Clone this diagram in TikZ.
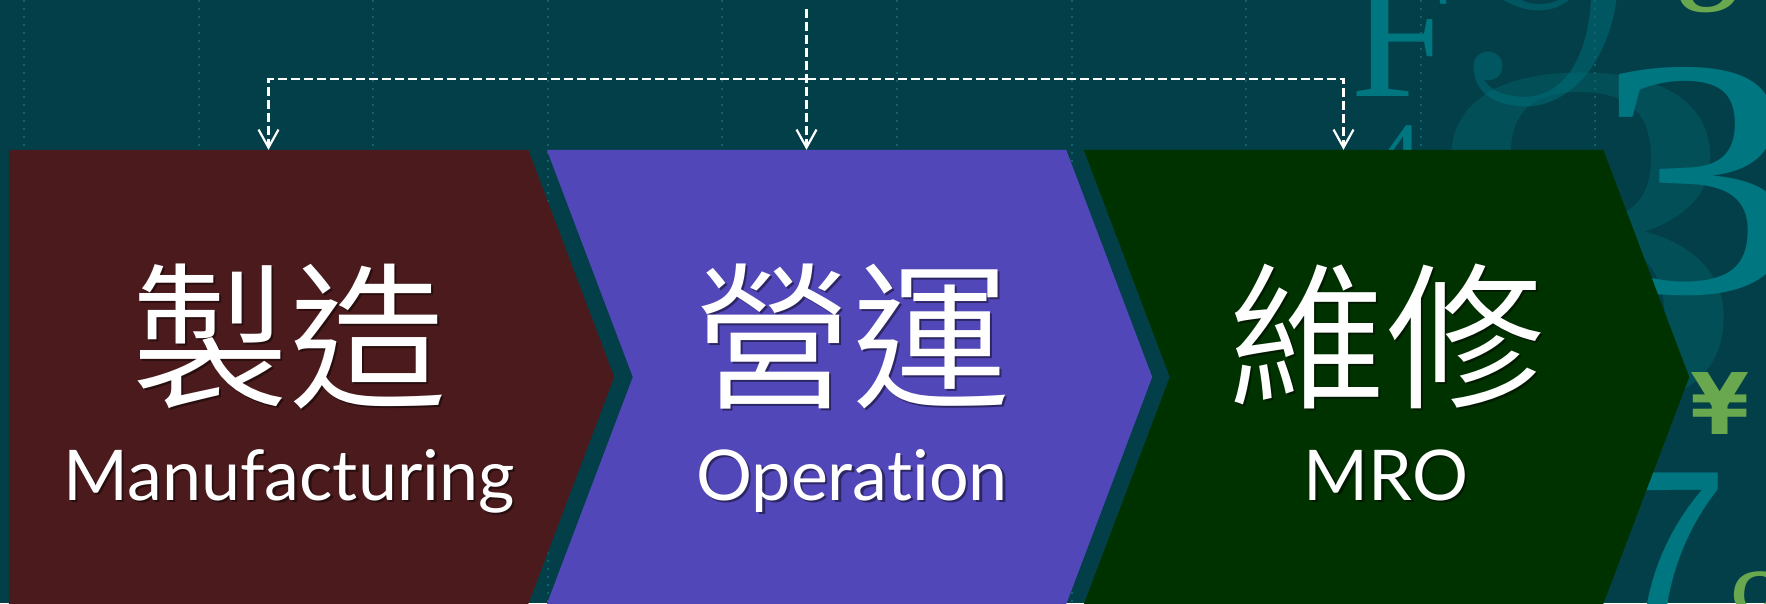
\documentclass[tikz,border=0pt]{standalone}
\usepackage{fontspec}
\setmainfont{Lato}[Ligatures={NoCommon,NoContextual}]
\newfontfamily\zhfont{Noto Sans CJK TC DemiLight}
\newfontfamily\numfont{Liberation Serif}
\newfontfamily\oldnum{Latin Modern Roman}[Numbers=OldStyle]
\newfontfamily\yenfont{DejaVu Sans}
\usetikzlibrary{arrows.meta}
\definecolor{bg}{RGB}{3,63,72}
\definecolor{grid}{RGB}{18,98,108}
\definecolor{mfgcol}{RGB}{74,26,28}
\definecolor{opscol}{RGB}{82,71,185}
\definecolor{mrocol}{RGB}{0,50,0}
\definecolor{numteal}{RGB}{0,118,128}
\definecolor{numgreen}{RGB}{106,168,79}

\begin{document}
\begin{tikzpicture}[x=1pt,y=1pt,
    body/.style={minimum width=519pt,minimum height=454pt,inner sep=0pt},
    zh/.style={text=white,font=\zhfont\fontsize{158}{158}\selectfont,inner sep=0pt,anchor=base},
    en/.style={text=white,font=\fontsize{70}{70}\selectfont,inner sep=0pt,anchor=base},
    drop/.style={text=black,text opacity=.45},
    num/.style={inner sep=0pt,anchor=base west},
    link/.style={white,line width=2.2pt,dash pattern=on 9pt off 4pt,-{Straight Barb[length=18pt,width=20pt]}}]
    \useasboundingbox (0,0) rectangle (1766,603);
    \fill[bg] (0,0) rectangle (1766,603);
    \node[num,text=numteal,font=\numfont\fontsize{185}{185}\selectfont] (numF) at (1350,506) {F};
    \node[num,text=numteal,text opacity=.45,font=\oldnum\fontsize{400}{400}\selectfont] (num9) at (1438,580) {9};
    \node[num,text=numteal,text opacity=.3,xscale=1.35,font=\numfont\fontsize{500}{500}\selectfont] (num8) at (1412,198) {8};
    \node[num,text=numteal,xscale=1.25,font=\numfont\fontsize{340}{340}\selectfont] (num3) at (1590,310) {3};
    \node[num,text=numteal,font=\numfont\fontsize{100}{100}\selectfont] (num4) at (1372,411) {4};
    \node[num,text=numteal,font=\sffamily\fontsize{260}{260}\selectfont] (num7) at (1606,-40) {7};
    \node[num,text=numgreen,font=\yenfont\bfseries\fontsize{85}{85}\selectfont] (yen) at (1690,169) {¥};
    \node[num,text=numgreen,font=\numfont\itshape\fontsize{120}{120}\selectfont] (num8b) at (1722,-48) {8};
    \node[num,text=numgreen,font=\numfont\itshape\fontsize{140}{140}\selectfont] (num8c) at (1676,591) {8};
    \foreach \x in {0,...,9}{
        \draw[grid,line width=2pt,dash pattern=on 2pt off 6pt] (24+174.6*\x,603) -- (24+174.6*\x,0);
    }
    \node[body] (mfg) at (268.5,226) {};
    \node[body] (ops) at (806.5,226) {};
    \node[body] (mro) at (1343.5,226) {};
    \fill[mfgcol] (mfg.north west) -- (mfg.north east) -- ([xshift=86pt]mfg.east) -- (mfg.south east) -- (mfg.south west) -- cycle;
    \fill[opscol] (ops.north west) -- (ops.north east) -- ([xshift=86pt]ops.east) -- (ops.south east) -- (ops.south west) -- ([xshift=86pt]ops.west) -- cycle;
    \fill[mrocol] (mro.north west) -- (mro.north east) -- ([xshift=86pt]mro.east) -- (mro.south east) -- (mro.south west) -- ([xshift=86pt]mro.west) -- cycle;
    \foreach \nm/\x/\zh/\en in {mfg/289/製造/Manufacturing,ops/852/營運/Operation,mro/1386/維修/MRO}{
        \node[zh,drop] at (\x+2.5,204.5) {\zh};
        \node[zh] (\nm-zh) at (\x,207) {\zh};
        \node[en,drop] at (\x+2.5,100.5) {\en};
        \node[en] (\nm-en) at (\x,103) {\en};
    }
    \coordinate (src) at (806.5,594);
    \coordinate (bus) at (806.5,524);
    \draw[link] (src) -- (ops.north);
    \draw[link] (bus) -| (mfg.north);
    \draw[link] (bus) -| (mro.north);
\end{tikzpicture}
\end{document}
